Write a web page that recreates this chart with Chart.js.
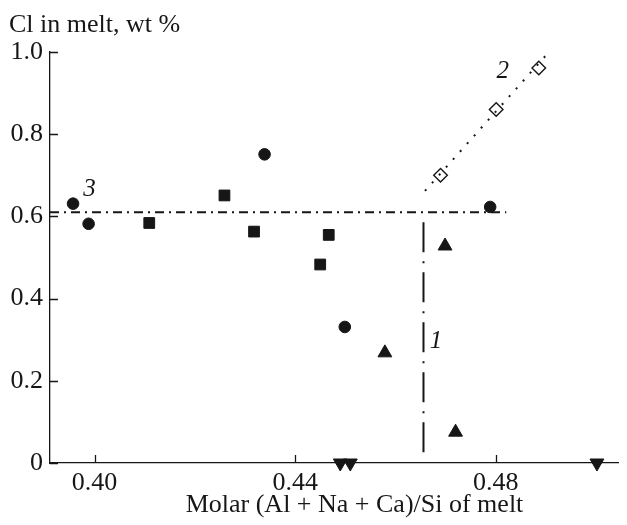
<!DOCTYPE html>
<html>
<head>
<meta charset="utf-8">
<script src="https://cdn.jsdelivr.net/npm/chart.js@4.4.1/dist/chart.umd.min.js"></script>
<style>
  html, body { margin: 0; padding: 0; background: #fff; }
  #wrap { width: 627px; height: 525px; }
</style>
</head>
<body>
<div id="wrap"><canvas id="chart"></canvas></div>
<script>
// Cl content of melt vs molar (Al + Na + Ca)/Si

const xMin = 0.3911;
const xMax = 0.5044;
const xTicks = [0.40, 0.44, 0.48];
const xTickLabels = ['0.40', '0.44', '0.48'];
const yTicks = [0, 0.2, 0.4, 0.6, 0.8, 1.0];
const yTickLabels = ['0', '0.2', '0.4', '0.6', '0.8', '1.0'];

const circleX = [0.3957, 0.3988, 0.4339, 0.4499, 0.4789];
const circleY = [0.631, 0.582, 0.751, 0.331, 0.623];

const squareX = [0.4109, 0.4259, 0.4318, 0.4450, 0.4467];
const squareY = [0.584, 0.651, 0.563, 0.483, 0.555];

const triUpX = [0.4579, 0.4699, 0.4720];
const triUpY = [0.268, 0.528, 0.075];

const triDownX = [0.4490, 0.4510, 0.5002];
const triDownY = [0, 0, 0];

const diamondX = [0.4690, 0.4801, 0.4886];
const diamondY = [0.700, 0.860, 0.961];

// trend lines 1, 2, 3 (end points)
const line1X = [0.4656, 0.4656];
const line1Y = [0.026, 0.586];
const line2X = [0.4659, 0.4899];
const line2Y = [0.662, 0.990];
const line3X = [0.3911, 0.4821];
const line3Y = [0.610, 0.610];

// curve numbers, anchored in data units
const curveLabels = [
  { text: '1', x: 0.4681, y: 0.296 },
  { text: '2', x: 0.4814, y: 0.952 },
  { text: '3', x: 0.3990, y: 0.666 }
];

const xTitle = 'Molar (Al + Na + Ca)/Si of melt';
const yTitle = 'Cl in melt, wt %';

const INK = '#161616';
const SERIF = '"Liberation Serif", "Times New Roman", serif';

const pts = (xs, ys) => xs.map((x, i) => ({ x, y: ys[i] }));

const marker = (xs, ys, style, radius, extra) => Object.assign({
  data: pts(xs, ys),
  showLine: false,
  pointStyle: style,
  pointRadius: radius,
  pointBackgroundColor: INK,
  pointBorderColor: INK,
  pointBorderWidth: 1,
  clip: false,
  order: 1
}, extra || {});

const trend = (xs, ys, dash, width) => ({
  data: pts(xs, ys),
  showLine: true,
  borderColor: INK,
  borderWidth: width,
  borderDash: dash,
  pointRadius: 0,
  clip: false,
  order: 0
});

// inward tick marks, axis titles and curve numbers
const decorations = {
  id: 'decorations',
  afterDraw(chart) {
    const { ctx, chartArea: a, scales: { x, y } } = chart;
    ctx.save();
    ctx.strokeStyle = INK;
    ctx.lineWidth = 1.3;
    ctx.beginPath();
    yTicks.forEach(v => {
      const py = Math.round(y.getPixelForValue(v)) + 0.5;
      ctx.moveTo(a.left, py);
      ctx.lineTo(a.left + 8, py);
    });
    xTicks.forEach(v => {
      const px = Math.round(x.getPixelForValue(v)) + 0.5;
      ctx.moveTo(px, a.bottom);
      ctx.lineTo(px, a.bottom - 8);
    });
    ctx.stroke();

    ctx.fillStyle = INK;
    ctx.font = '26px ' + SERIF;
    ctx.textBaseline = 'alphabetic';
    ctx.textAlign = 'left';
    ctx.fillText(yTitle, a.left - 41, a.top - 20);
    ctx.textAlign = 'center';
    ctx.fillText(xTitle, a.left + 304.5, a.bottom + 49);

    ctx.font = 'italic 25px ' + SERIF;
    ctx.textBaseline = 'middle';
    curveLabels.forEach(l => {
      ctx.fillText(l.text, x.getPixelForValue(l.x), y.getPixelForValue(l.y));
    });
    ctx.restore();
  }
};

new Chart(document.getElementById('chart'), {
  type: 'scatter',
  data: {
    datasets: [
      trend(line1X, line1Y, [30, 9, 2, 9], 2),
      trend(line2X, line2Y, [2, 8.5], 2),
      trend(line3X, line3Y, [9, 5, 2, 5], 2),
      marker(circleX, circleY, 'circle', 5.8),
      marker(squareX, squareY, 'rect', 7.6),
      marker(triUpX, triUpY, 'triangle', 8),
      marker(triDownX, triDownY, 'triangle', 8, { pointRotation: 180 }),
      marker(diamondX, diamondY, 'rectRot', 6.8,
        { pointBackgroundColor: '#fff', pointBorderWidth: 1.4, order: 2 })
    ]
  },
  options: {
    responsive: true,
    maintainAspectRatio: false,
    animation: false,
    layout: { padding: { top: 52, right: 0, bottom: 0, left: 0 } },
    plugins: {
      legend: { display: false },
      tooltip: { enabled: false }
    },
    scales: {
      x: {
        type: 'linear',
        min: xMin,
        max: xMax,
        afterBuildTicks: s => { s.ticks = xTicks.map(v => ({ value: v })); },
        afterFit: s => { s.height = 62; },
        grid: { display: false, drawTicks: false },
        border: { display: true, color: INK, width: 1.3 },
        ticks: {
          autoSkip: false,
          maxRotation: 0,
          padding: 5,
          color: INK,
          font: { family: SERIF, size: 26 },
          callback: (v, i) => xTickLabels[i]
        }
      },
      y: {
        type: 'linear',
        min: 0,
        max: 1,
        afterBuildTicks: s => { s.ticks = yTicks.map(v => ({ value: v })); },
        afterFit: s => { s.width = 50; },
        grid: { display: false, drawTicks: false },
        border: { display: true, color: INK, width: 1.3 },
        ticks: {
          autoSkip: false,
          padding: 7,
          color: INK,
          font: { family: SERIF, size: 26 },
          callback: (v, i) => yTickLabels[i]
        }
      }
    }
  },
  plugins: [decorations]
});
</script>
</body>
</html>
